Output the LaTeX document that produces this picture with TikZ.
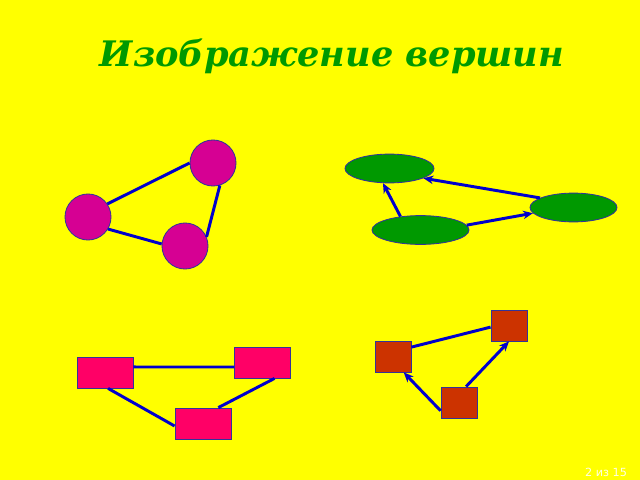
\documentclass[tikz,border=0pt]{standalone}
\usepackage{fontspec}
\setmainfont{DejaVu Serif}
\newfontfamily\pageFont{DejaVu Sans}
\usepackage{tikz}
\usetikzlibrary{positioning}
\usetikzlibrary{shapes.geometric}
\usetikzlibrary{arrows.meta}

\definecolor{slideYellow}{HTML}{FFFF00}
\definecolor{titleGreen}{HTML}{009900}
\definecolor{circleMagenta}{HTML}{D60093}
\definecolor{ellipseGreen}{HTML}{009900}
\definecolor{boxPink}{HTML}{FF0066}
\definecolor{squareRed}{HTML}{CC3300}
\definecolor{edgeBlue}{HTML}{0000CC}
\definecolor{rimBlue}{HTML}{333399}

\tikzset{
	vertexCircle/.style={circle, draw=rimBlue, line width=0.6pt, fill=circleMagenta, inner sep=0pt, minimum size=1.15cm},
	vertexEllipse/.style={ellipse, draw=rimBlue, line width=0.6pt, fill=ellipseGreen, inner sep=0pt, minimum height=0.72cm},
	vertexBox/.style={rectangle, draw=rimBlue, line width=0.6pt, fill=boxPink, inner sep=0pt, minimum width=1.4cm, minimum height=0.775cm},
	vertexSquare/.style={rectangle, draw=rimBlue, line width=0.6pt, fill=squareRed, inner sep=0pt, minimum width=0.9cm, minimum height=0.775cm},
	edgeLine/.style={draw=edgeBlue, line width=2.1pt},
	arcLine/.style={edgeLine, -{Stealth[length=7pt, width=6pt]}}
}

\begin{document}
\begin{tikzpicture}[x=0.025cm, y=-0.025cm]
	\fill[slideYellow] (0,0) rectangle (640,480);
	\useasboundingbox (0,0) rectangle (640,480);

	\node[text=titleGreen, font=\fontsize{25}{30}\selectfont\bfseries\itshape](title) at (332,56){Изображение вершин};

	% circles
	\node[vertexCircle](circTop) at (213,163){};
	\node[vertexCircle](circLeft) at (88,217){};
	\node[vertexCircle](circBottom) at (185,246){};
	\draw[edgeLine] (circLeft.34) -- (circTop.180);
	\draw[edgeLine] (circLeft.-31) -- (circBottom.175);
	\draw[edgeLine] (circTop.-73) -- (circBottom.23);

	% ellipses
	\node[vertexEllipse, minimum width=2.225cm](ellTop) at (389.5,168.5){};
	\node[vertexEllipse, minimum width=2.175cm](ellRight) at (573.5,207.5){};
	\node[vertexEllipse, minimum width=2.425cm](ellBottom) at (420.5,230){};
	\draw[arcLine] (ellBottom.146) -- (ellTop.246);
	\draw[arcLine] (ellBottom.6) -- (ellRight.188);
	\draw[arcLine] (ellRight.164) -- (ellTop.-16);

	% rectangles
	\node[vertexBox](boxLeft) at (105,372.5){};
	\node[vertexBox](boxRight) at (262.5,362.5){};
	\node[vertexBox](boxBottom) at (203,423.5){};
	\draw[edgeLine] (boxLeft.11) -- (boxRight.189);
	\draw[edgeLine] (boxLeft.-79) -- (boxBottom.185);
	\draw[edgeLine] (boxBottom.46) -- (boxRight.-53);

	% squares
	\node[vertexSquare](sqTop) at (509,325.5){};
	\node[vertexSquare](sqLeft) at (393,356.5){};
	\node[vertexSquare](sqBottom) at (459,402.5){};
	\draw[edgeLine] (sqLeft.27) -- (sqTop.185);
	\draw[arcLine] (sqBottom.204) -- (sqLeft.-56);
	\draw[arcLine] (sqBottom.66) -- (sqTop.-90);

	\node[text=white!90!yellow, font=\pageFont\fontsize{8}{9}\selectfont](pageNo) at (606,472){2 из 15};
\end{tikzpicture}
\end{document}
